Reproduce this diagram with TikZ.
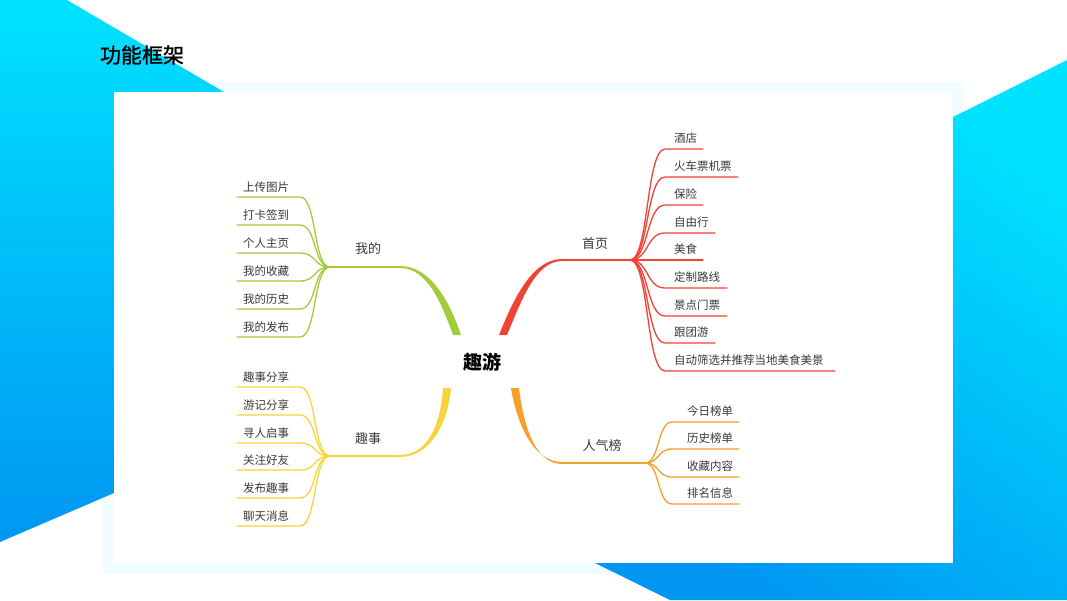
\documentclass[tikz,border=0pt]{standalone}
\usepackage{fontspec}
\setmainfont{Noto Sans CJK SC}
\newfontfamily\titlefont{Noto Sans CJK SC}[FakeBold=1.2]
\definecolor{cyanA}{HTML}{00E2FF}
\definecolor{blueB}{HTML}{0096F2}
\definecolor{glow}{HTML}{F0FCFF}
\definecolor{cG}{HTML}{A2CB3E}
\definecolor{cR}{HTML}{EF4434}
\definecolor{cY}{HTML}{F8D43A}
\definecolor{cO}{HTML}{F6A02C}
\definecolor{txt}{HTML}{3A3A3A}
\begin{document}
\begin{tikzpicture}[x=1pt,y=-1pt,
  leaf/.style={font=\fontsize{11.5}{13}\selectfont,text=txt,inner sep=0pt,anchor=west},
  blabel/.style={font=\fontsize{13}{15}\selectfont,text=txt,inner sep=0pt},
  twig/.style={line width=1.3pt,line cap=round},
  bar/.style={line width=2pt}]
\useasboundingbox (0,0) rectangle (1067,600);
\fill[white] (0,0) rectangle (1067,600);
% faint glow of the panel
\fill[glow] (103,82) rectangle (963,574);
% background shapes
\shade[top color=cyanA,bottom color=blueB] (0,0) -- (67,0) -- (224,92) -- (114,92) -- (114,493) -- (0,542) -- cycle;
\shade[top color=cyanA,bottom color=blueB,shading angle=-35] (953,117) -- (1067,60) -- (1067,600) -- (670,600) -- (595,563) -- (953,563) -- cycle;
% panel
\fill[white] (114,92) rectangle (952,563);
% title and root
\node[font=\fontsize{21}{24}\selectfont\titlefont,text=black] (title) at (142,55) {功能框架};
\node[font=\fontsize{19}{22}\selectfont\bfseries,text=black] (root) at (482,362) {趣游};
% hubs
\coordinate (hG) at (330,267); \coordinate (tG) at (400,267);
\coordinate (hY) at (330,456); \coordinate (tY) at (400,456);
\coordinate (hR) at (630,260); \coordinate (tR) at (562,260);
\coordinate (hO) at (645,463); \coordinate (tO) at (562,463);
% trunks
\fill[cG] (400,266) .. controls (430,266) and (449,300) .. (461,335) -- (453,335) .. controls (441,302) and (427,268) .. (400,268) -- cycle;
\fill[cR] (562,259) .. controls (532,259) and (513,300) .. (499,335) -- (507,335) .. controls (521,302) and (535,261) .. (562,261) -- cycle;
\fill[cY] (400,455) .. controls (430,455) and (441,420) .. (443,388) -- (451,388) .. controls (448,422) and (431,457) .. (400,457) -- cycle;
\fill[cO] (562,462) .. controls (532,462) and (516,420) .. (511,388) -- (519,388) .. controls (523,422) and (534,464) .. (562,464) -- cycle;
\draw[cG,bar] (hG) -- (tG);
\draw[cY,bar] (hY) -- (tY);
\draw[cR,bar] (hR) -- (tR);
\draw[cO,bar] (hO) -- (tO);
% branch labels
\node[blabel] (lG) at (368,249) {我的};
\node[blabel] (lY) at (368,439) {趣事};
\node[blabel] (lR) at (595,244) {首页};
\node[blabel] (lO) at (602,446) {人气榜};
% green leaves
\foreach \i/\t/\yy in {1/上传图片/197,2/打卡签到/225,3/个人主页/253,4/我的收藏/281,5/我的历史/309,6/我的发布/337}{
  \coordinate (g\i) at (300,\yy); \coordinate (ge\i) at (237,\yy);
  \draw[cG,twig] (hG) .. controls +(-17,0) and +(17,0) .. (g\i) -- (ge\i);
  \node[leaf] (gt\i) at (243,\yy-10) {\t};
}
% yellow leaves
\foreach \i/\t/\yy in {1/趣事分享/387,2/游记分享/415,3/寻人启事/443,4/关注好友/470,5/发布趣事/498,6/聊天消息/526}{
  \coordinate (y\i) at (300,\yy); \coordinate (ye\i) at (237,\yy);
  \draw[cY,twig] (hY) .. controls +(-17,0) and +(17,0) .. (y\i) -- (ye\i);
  \node[leaf] (yt\i) at (243,\yy-10) {\t};
}
% red leaves
\foreach \i/\t/\yy/\xe in {1/酒店/149/703,2/火车票机票/177/738,3/保险/205/703,4/自由行/233/715,5/美食/260/703,6/定制路线/288/727,7/景点门票/316/727,8/跟团游/343/715,9/自动筛选并推荐当地美食美景/371/835}{
  \coordinate (r\i) at (665,\yy); \coordinate (re\i) at (\xe,\yy);
  \draw[cR,twig] (hR) .. controls +(19,0) and +(-19,0) .. (r\i) -- (re\i);
  \node[leaf] (rt\i) at (674,\yy-10.5) {\t};
}
% orange leaves
\foreach \i/\t/\yy in {1/今日榜单/422,2/历史榜单/449,3/收藏内容/477,4/排名信息/504}{
  \coordinate (o\i) at (672,\yy); \coordinate (oe\i) at (739,\yy);
  \draw[cO,twig] (hO) .. controls +(15,0) and +(-15,0) .. (o\i) -- (oe\i);
  \node[leaf] (ot\i) at (687,\yy-11) {\t};
}
\end{tikzpicture}
\end{document}
